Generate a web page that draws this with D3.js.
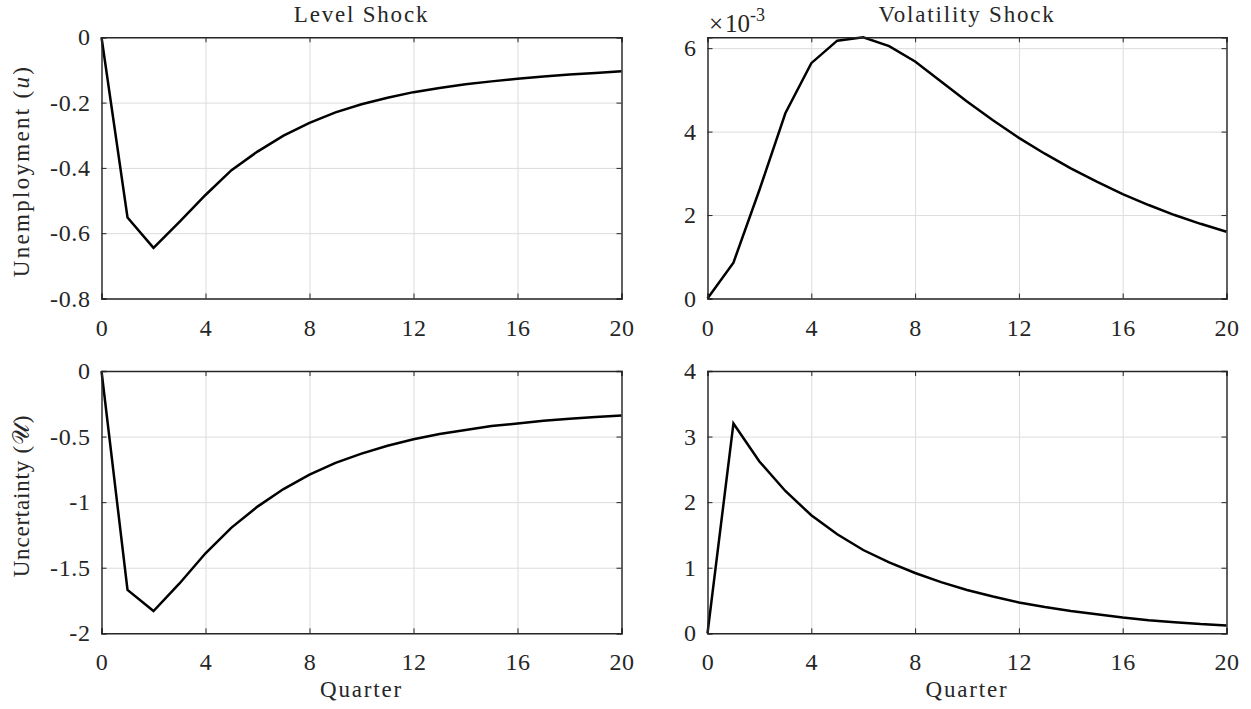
<!DOCTYPE html>
<html>
<head>
<meta charset="utf-8">
<script src="https://cdn.jsdelivr.net/npm/d3@7"></script>
<style>
body { margin: 0; background: #fff; }
text { font-family: "Liberation Serif", "Times New Roman", serif; fill: #262626; }
</style>
</head>
<body>
<svg id="chart" width="1251" height="709"></svg>
<script>
// quarters after the shock
var quarters = [0,1,2,3,4,5,6,7,8,9,10,11,12,13,14,15,16,17,18,19,20];

// unemployment response, level shock
var uLevel = [0,-0.552,-0.645,-0.565,-0.483,-0.407,-0.350,-0.301,-0.262,-0.230,-0.205,-0.185,-0.168,-0.155,-0.144,-0.135,-0.127,-0.120,-0.114,-0.109,-0.104];
// unemployment response, volatility shock (x 1e-3)
var uVol = [0,0.86,2.60,4.44,5.64,6.18,6.26,6.05,5.68,5.20,4.72,4.27,3.85,3.47,3.12,2.80,2.50,2.24,2.00,1.79,1.60];
// uncertainty response, level shock
var uncLevel = [0,-1.669,-1.830,-1.620,-1.390,-1.194,-1.034,-0.900,-0.790,-0.700,-0.630,-0.570,-0.520,-0.480,-0.450,-0.420,-0.400,-0.380,-0.365,-0.350,-0.340];
// uncertainty response, volatility shock
var uncVol = [0,3.20,2.62,2.17,1.80,1.51,1.27,1.08,0.92,0.78,0.66,0.56,0.47,0.40,0.34,0.29,0.24,0.20,0.17,0.14,0.12];

var xTicks = [0,4,8,12,16,20];
var yTicksUL = [0,-0.2,-0.4,-0.6,-0.8];
var yTicksUV = [0,2,4,6];
var yTicksNL = [0,-0.5,-1,-1.5,-2];
var yTicksNV = [0,1,2,3,4];

var svg = d3.select("#chart");

var col = [{x0:101.5, x1:621.5}, {x0:707.5, x1:1226.5}];
var row = [{y0:37.3, y1:298.5}, {y0:371, y1:633.3}];

var panels = [
  {c:0, r:0, data:uLevel, dom:[-0.8,0], ticks:yTicksUL},
  {c:1, r:0, data:uVol, dom:[0,6.26], ticks:yTicksUV},
  {c:0, r:1, data:uncLevel, dom:[-2,0], ticks:yTicksNL},
  {c:1, r:1, data:uncVol, dom:[0,4], ticks:yTicksNV}
];

function fmt(d){ return String(d); } // plain hyphen like the original

panels.forEach(function(p){
  var cx = col[p.c], ry = row[p.r];
  var w = cx.x1 - cx.x0, h = ry.y1 - ry.y0;
  var g = svg.append("g").attr("transform", "translate(" + cx.x0 + "," + ry.y0 + ")");
  var x = d3.scaleLinear().domain([0,20]).range([0,w]);
  var y = d3.scaleLinear().domain(p.dom).range([h,0]);

  // grid
  g.append("g").attr("class","grid")
    .attr("transform","translate(0," + h + ")")
    .call(d3.axisBottom(x).tickValues(xTicks).tickSize(-h).tickFormat(""))
    .call(function(s){ s.select(".domain").remove(); s.selectAll("line").attr("stroke","#dcdcdc"); });
  g.append("g").attr("class","grid")
    .call(d3.axisLeft(y).tickValues(p.ticks).tickSize(-w).tickFormat(""))
    .call(function(s){ s.select(".domain").remove(); s.selectAll("line").attr("stroke","#dcdcdc"); });

  // curve
  var line = d3.line().x(function(d,i){ return x(quarters[i]); }).y(function(d){ return y(d); });
  g.append("path").datum(p.data)
    .attr("d", line).attr("fill","none").attr("stroke","#000").attr("stroke-width",2.5)
    .attr("stroke-linejoin","miter");

  // axes with inward ticks on all four sides
  var ax = [
    g.append("g").attr("transform","translate(0," + h + ")")
      .call(d3.axisBottom(x).tickValues(xTicks).tickSize(-5).tickPadding(20).tickFormat(fmt)),
    g.append("g")
      .call(d3.axisLeft(y).tickValues(p.ticks).tickSize(-5).tickPadding(11).tickFormat(fmt)),
    g.append("g")
      .call(d3.axisTop(x).tickValues(xTicks).tickSize(-5).tickFormat("")),
    g.append("g").attr("transform","translate(" + w + ",0)")
      .call(d3.axisRight(y).tickValues(p.ticks).tickSize(-5).tickFormat(""))
  ];
  ax.forEach(function(a){
    a.attr("font-family", "'Liberation Serif', serif").attr("font-size", 24);
    a.select(".domain").attr("stroke","#262626").attr("stroke-width",1.4);
    a.selectAll(".tick line").attr("stroke","#262626").attr("stroke-width",1);
    a.selectAll(".tick text").attr("fill","#262626").attr("letter-spacing",0.6);
  });
});

// titles
svg.append("text").attr("x", (col[0].x0+col[0].x1)/2).attr("y", 22)
  .attr("text-anchor","middle").attr("font-size",23).attr("letter-spacing",1.8).text("Level Shock");
svg.append("text").attr("x", (col[1].x0+col[1].x1)/2).attr("y", 22)
  .attr("text-anchor","middle").attr("font-size",23).attr("letter-spacing",1.8).text("Volatility Shock");

// exponent label
var ex = svg.append("text").attr("x", 709).attr("y", 32).attr("font-size",25);
ex.append("tspan").text("\u00d7");
ex.append("tspan").attr("dx",2).text("10");
ex.append("tspan").attr("dy",-11).attr("font-size",18).text("-3");

// y labels
svg.append("text").attr("transform","translate(29,171) rotate(-90)")
  .attr("text-anchor","middle").attr("font-size",23).attr("letter-spacing",2.3)
  .call(function(t){
    t.append("tspan").text("Unemployment (");
    t.append("tspan").attr("font-style","italic").text("u");
    t.append("tspan").text(")");
  });
svg.append("text").attr("transform","translate(29,496) rotate(-90)")
  .attr("text-anchor","middle").attr("font-size",23).attr("letter-spacing",0.8)
  .call(function(t){
    t.append("tspan").text("Uncertainty (");
    t.append("tspan").text("\ud835\udcb0");
    t.append("tspan").text(")");
  });

// x labels
[0,1].forEach(function(c){
  svg.append("text").attr("x", (col[c].x0+col[c].x1)/2).attr("y", 697)
    .attr("text-anchor","middle").attr("font-size",23).attr("letter-spacing",1.8).text("Quarter");
});
</script>
</body>
</html>
